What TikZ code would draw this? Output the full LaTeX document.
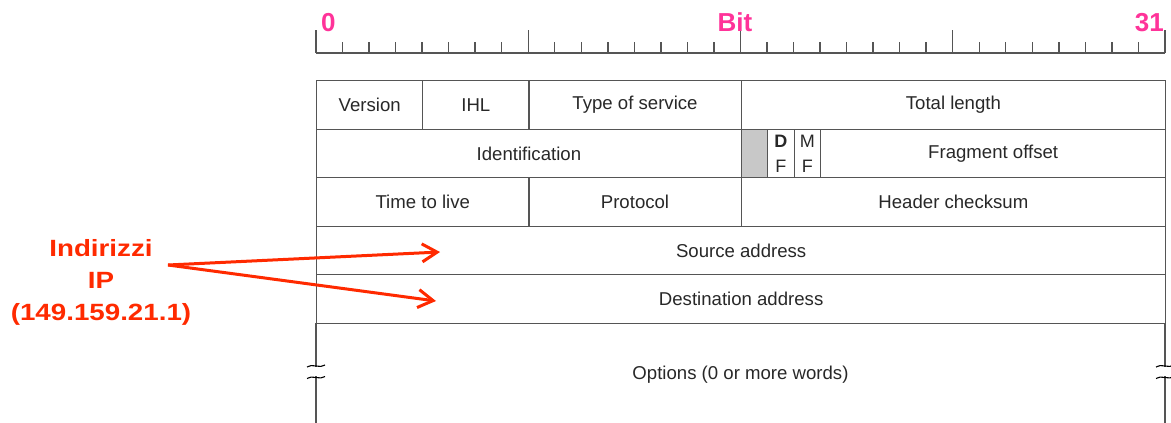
\documentclass[tikz,border=0pt]{standalone}
\usepackage{fontspec}
\setmainfont{Liberation Sans}
\usepackage{graphicx}
\usetikzlibrary{arrows.meta}
\definecolor{gridc}{RGB}{85,85,85}
\definecolor{txtc}{RGB}{40,40,40}
\definecolor{pinkc}{RGB}{255,51,153}
\definecolor{redc}{RGB}{255,42,0}
\definecolor{grayfill}{RGB}{200,200,200}
\tikzset{
  cell/.style={draw=gridc, line width=1.3pt, inner sep=0pt, anchor=north west,
    font=\fontsize{18.6}{20}\selectfont, text=txtc},
  opentext/.style={inner sep=0pt, font=\fontsize{18.6}{20}\selectfont, text=txtc},
  rulerline/.style={draw=gridc, line width=1.4pt},
  bitlabel/.style={font=\bfseries\fontsize{26}{28}\selectfont, text=pinkc, inner sep=0pt},
  redlabel/.style={font=\bfseries\fontsize{23.5}{32}\selectfont, text=redc, align=center, inner sep=0pt},
  redarrow/.style={draw=redc, line width=3pt, -{Straight Barb[length=15pt,width=18pt,line width=3pt]}},
  breakmark/.style={draw=black, line width=1.1pt}
}
\begin{document}
\begin{tikzpicture}[x=1pt,y=-1pt]
\useasboundingbox (0,0) rectangle (1171,423);
% ruler
\draw[rulerline] (316,53) -- (1165,53);
\foreach \i in {0,...,32}{
  \pgfmathsetmacro{\xx}{316+\i*26.53}
  \pgfmathtruncatemacro{\m}{mod(\i,8)}
  \ifnum\m=0
    \draw[rulerline] (\xx,30) -- (\xx,53);
  \else
    \draw[rulerline] (\xx,42) -- (\xx,53);
  \fi
}
\node[bitlabel, anchor=base west] (b0) at (321,31) {0};
\node[bitlabel, anchor=base] (bbit) at (735,31) {Bit};
\node[bitlabel, anchor=base east] (b31) at (1164,31) {31};
% row 1
\node[cell, minimum width=106.1pt, minimum height=48.5pt] (ver) at (316,80) {Version};
\node[cell, minimum width=106.1pt, minimum height=48.5pt] (ihl) at (422.1,80) {IHL};
\node[cell, minimum width=212.3pt, minimum height=48.5pt] (tos) at (528.2,80) {Type of service};
\node[cell, minimum width=424.5pt, minimum height=48.5pt] (tl) at (740.5,80) {Total length};
% row 2
\node[cell, minimum width=424.5pt, minimum height=48.5pt] (id) at (316,128.5) {Identification};
\node[cell, fill=grayfill, minimum width=26.5pt, minimum height=48.5pt] (res) at (740.5,128.5) {};
\node[cell, minimum width=26.5pt, minimum height=48.5pt, align=center, font=\fontsize{18}{25}\selectfont] (df) at (767,128.5) {\textbf{D}\\F};
\node[cell, minimum width=26.5pt, minimum height=48.5pt, align=center, font=\fontsize{18}{25}\selectfont] (mf) at (793.5,128.5) {M\\F};
\node[cell, minimum width=345pt, minimum height=48.5pt] (fo) at (820,128.5) {Fragment offset};
% row 3
\node[cell, minimum width=212.2pt, minimum height=48.5pt] (ttl) at (316,177) {Time to live};
\node[cell, minimum width=212.3pt, minimum height=48.5pt] (proto) at (528.2,177) {Protocol};
\node[cell, minimum width=424.5pt, minimum height=48.5pt] (chk) at (740.5,177) {Header checksum};
% rows 4,5
\node[cell, minimum width=849pt, minimum height=48.5pt] (src) at (316,225.5) {Source address};
\node[cell, minimum width=849pt, minimum height=48.5pt] (dst) at (316,274) {Destination address};
% options row (open at bottom)
\node[opentext] (opt) at (740.5,375) {Options (0 or more words)};
\draw[draw=gridc, line width=1.3pt] (316,322.5) -- (316,367);
\draw[draw=gridc, line width=1.3pt] (316,376) -- (316,423);
\draw[draw=gridc, line width=1.3pt] (1165,322.5) -- (1165,367);
\draw[draw=gridc, line width=1.3pt] (1165,376) -- (1165,423);
\foreach \bx in {316,1165}{
  \foreach \by in {366,377.5}{
    \draw[breakmark] (\bx-9,\by+1) .. controls (\bx-4,\by-3) and (\bx+4,\by+3) .. (\bx+9,\by-1);
  }
}
% red label and arrows
\node[redlabel] (lbl) at (101,282) {\scalebox{1.18}[1]{Indirizzi}\\\scalebox{1.18}[1]{IP}\\\scalebox{1.18}[1]{(149.159.21.1)}};
\coordinate (lblout) at (168,265);
\coordinate (srcend) at (440,252);
\coordinate (dstend) at (436,301);
\draw[redarrow] (lblout) -- (srcend);
\draw[redarrow] (lblout) -- (dstend);
\end{tikzpicture}
\end{document}
